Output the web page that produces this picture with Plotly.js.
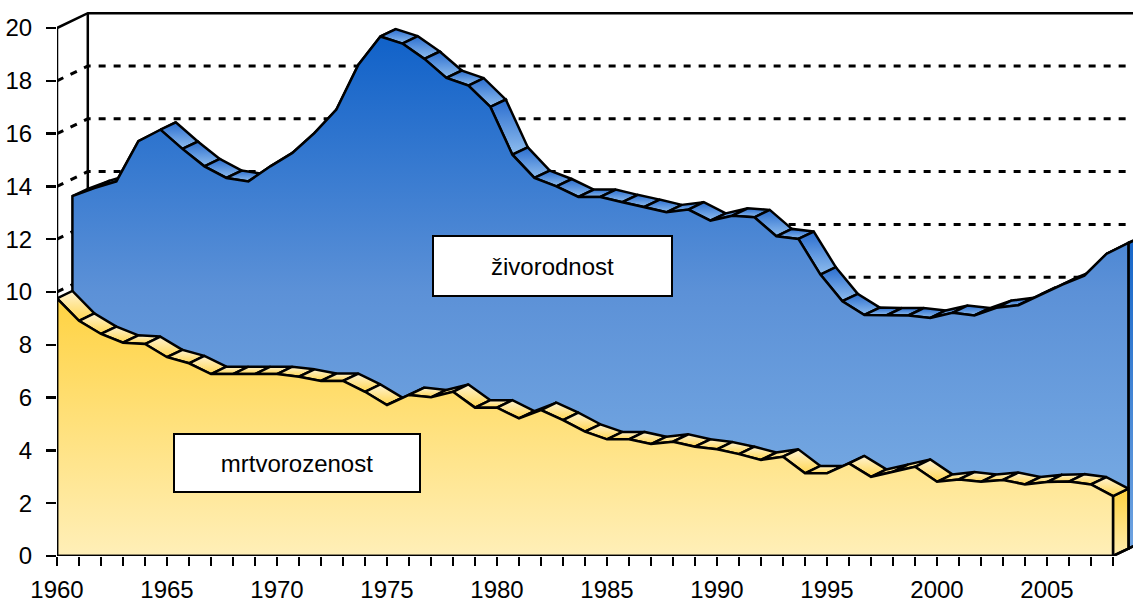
<!DOCTYPE html>
<html>
<head>
<meta charset="utf-8">
<script src="https://cdn.plot.ly/plotly-3.0.1.min.js"></script>
<style>html,body{margin:0;padding:0;background:#fff;}#chart{width:1133px;height:603px;}</style>
</head>
<body>
<div id="chart"></div>
<script>
// ---- data ----
const years = [1960,1961,1962,1963,1964,1965,1966,1967,1968,1969,1970,1971,1972,1973,1974,1975,1976,1977,1978,1979,
  1980,1981,1982,1983,1984,1985,1986,1987,1988,1989,1990,1991,1992,1993,1994,1995,1996,1997,1998,1999,
  2000,2001,2002,2003,2004,2005,2006,2007,2008];
const zivorodnost = [13.35,13.66,13.91,15.43,15.87,15.14,14.48,14.04,13.91,14.48,14.99,15.74,16.63,18.33,19.40,19.13,18.55,17.83,17.54,16.73,
  14.92,14.04,13.72,13.32,13.32,13.12,12.94,12.74,12.84,12.42,12.61,12.55,11.83,11.73,10.38,9.37,8.85,8.83,8.83,8.74,
  8.93,8.83,9.12,9.22,9.62,10.00,10.34,11.16,11.58];
const mrtvorozenost = [9.76,8.91,8.41,8.08,8.03,7.53,7.30,6.89,6.89,6.89,6.89,6.79,6.63,6.63,6.22,5.72,6.10,6.01,6.22,5.62,
  5.62,5.21,5.53,5.15,4.71,4.42,4.42,4.24,4.33,4.14,4.04,3.86,3.64,3.76,3.13,3.13,3.51,3.00,3.19,3.38,
  2.81,2.90,2.81,2.88,2.71,2.80,2.82,2.71,2.27];
const yTicks = [0,2,4,6,8,10,12,14,16,18,20];
const xLabelStep = 5;
const seriesLabels = ['živorodnost','mrtvorozenost'];

// ---- 3D depth (in axis units) ----
const DX = 0.70, DY = 0.28;
const FONT = 'Liberation Sans, Arial, sans-serif';
const LW = 2.5;
const traces = [];
const x0 = years[0], xN = years[years.length-1];
const yMax = yTicks[yTicks.length-1];
const xEnd = x0 + 1076/22;

// back wall & gridlines
yTicks.forEach(v => {
  const isTop = v === yMax;
  traces.push({x:[x0, x0+2*DX, xEnd], y:[v, v+2*DY, v+2*DY], mode:'lines',
    line:{color:'#000', width: isTop ? LW : 3, dash: isTop ? 'solid' : '7px,8px'}, hoverinfo:'skip'});
});
traces.push({x:[x0+2*DX, x0+2*DX], y:[2*DY, yMax+2*DY], mode:'lines', line:{color:'#000', width:LW}, hoverinfo:'skip'});

function ribbon(vals, d0, d1, cs) {
  for (let i = 0; i < years.length-1; i++) {
    traces.push({
      x:[years[i]+d0*DX, years[i+1]+d0*DX, years[i+1]+d1*DX, years[i]+d1*DX, years[i]+d0*DX],
      y:[vals[i]+d0*DY, vals[i+1]+d0*DY, vals[i+1]+d1*DY, vals[i]+d1*DY, vals[i]+d0*DY],
      mode:'lines', fill:'toself', line:{color:'#000', width:LW},
      fillgradient:{type:'vertical', colorscale:cs}, hoverinfo:'skip'
    });
  }
}
function face(vals, d, cs, start, stop) {
  const xs = [x0+d*DX], ys = [d*DY];
  years.forEach((yr,i) => { xs.push(yr+d*DX); ys.push(vals[i]+d*DY); });
  xs.push(xN+d*DX); ys.push(d*DY); xs.push(x0+d*DX); ys.push(d*DY);
  traces.push({x:xs, y:ys, mode:'lines', fill:'toself', line:{color:'#000', width:LW},
    fillgradient:{type:'vertical', colorscale:cs, start:start, stop:stop}, hoverinfo:'skip'});
}
function endFace(vals, d0, d1, cs) {
  const v = vals[vals.length-1];
  traces.push({x:[xN+d0*DX, xN+d0*DX, xN+d1*DX, xN+d1*DX, xN+d0*DX],
    y:[d0*DY, v+d0*DY, v+d1*DY, d1*DY, d0*DY], mode:'lines', fill:'toself',
    line:{color:'#000', width:LW}, fillgradient:{type:'vertical', colorscale:cs}, hoverinfo:'skip'});
}

// blue series (behind)
endFace(zivorodnost, 1, 2, [[0,'#6FA3E0'],[1,'#1565C8']]);
ribbon(zivorodnost, 1, 2, [[0,'#8FBDEE'],[1,'#2B6ECF']]);
face(zivorodnost, 1, [[0,'#7DB0E6'],[0.5,'#5C91D7'],[1,'#0E60C8']], 0, 20);
// yellow series (front)
endFace(mrtvorozenost, 0, 1, [[0,'#FFEDB0'],[1,'#FFD23F']]);
ribbon(mrtvorozenost, 0, 1, [[0,'#FFD650'],[1,'#FFF3D2']]);
face(mrtvorozenost, 0, [[0,'#FFEFB8'],[1,'#FFD23F']], 0, 10);

// axis lines and floor
traces.push({x:[x0, x0], y:[0, yMax], mode:'lines', line:{color:'#000', width:LW}, hoverinfo:'skip'});
traces.push({x:[x0, xN, xN+2*DX], y:[0, 0, 2*DY], mode:'lines', line:{color:'#000', width:LW}, hoverinfo:'skip'});

const layout = {
  width:1133, height:603,
  margin:{l:57, r:0, t:0, b:47},
  paper_bgcolor:'#fff', plot_bgcolor:'#fff',
  showlegend:false,
  xaxis:{range:[x0, xEnd], showgrid:false, zeroline:false, showline:false,
    tickmode:'array', tickvals:years, ticktext:years.map(y => y % xLabelStep === 0 ? String(y) : ''),
    ticks:'outside', ticklen:9, tickwidth:2.5, tickcolor:'#000', ticklabelstandoff:3,
    tickfont:{family:FONT, size:24, color:'#000'}, fixedrange:true},
  yaxis:{range:[0, 556/26.4], showgrid:false, zeroline:false, showline:false,
    tickmode:'array', tickvals:yTicks, ticktext:yTicks.map(String),
    ticks:'outside', ticklen:10, tickwidth:2.5, tickcolor:'#000', ticklabelstandoff:9,
    tickfont:{family:FONT, size:24, color:'#000'}, fixedrange:true},
  annotations:[
    {x:1982.52, y:10.98, xref:'x', yref:'y', text:seriesLabels[0], showarrow:false,
     font:{family:FONT, size:24, color:'#000'}, bgcolor:'#fff', bordercolor:'#000', borderwidth:2,
     borderpad:0, width:237, height:58, align:'center', valign:'middle'},
    {x:1970.91, y:3.52, xref:'x', yref:'y', text:seriesLabels[1], showarrow:false,
     font:{family:FONT, size:24, color:'#000'}, bgcolor:'#fff', bordercolor:'#000', borderwidth:2,
     borderpad:0, width:244, height:56, align:'center', valign:'middle'}
  ]
};
Plotly.newPlot('chart', traces, layout, {displayModeBar:false, staticPlot:true});
</script>
</body>
</html>
